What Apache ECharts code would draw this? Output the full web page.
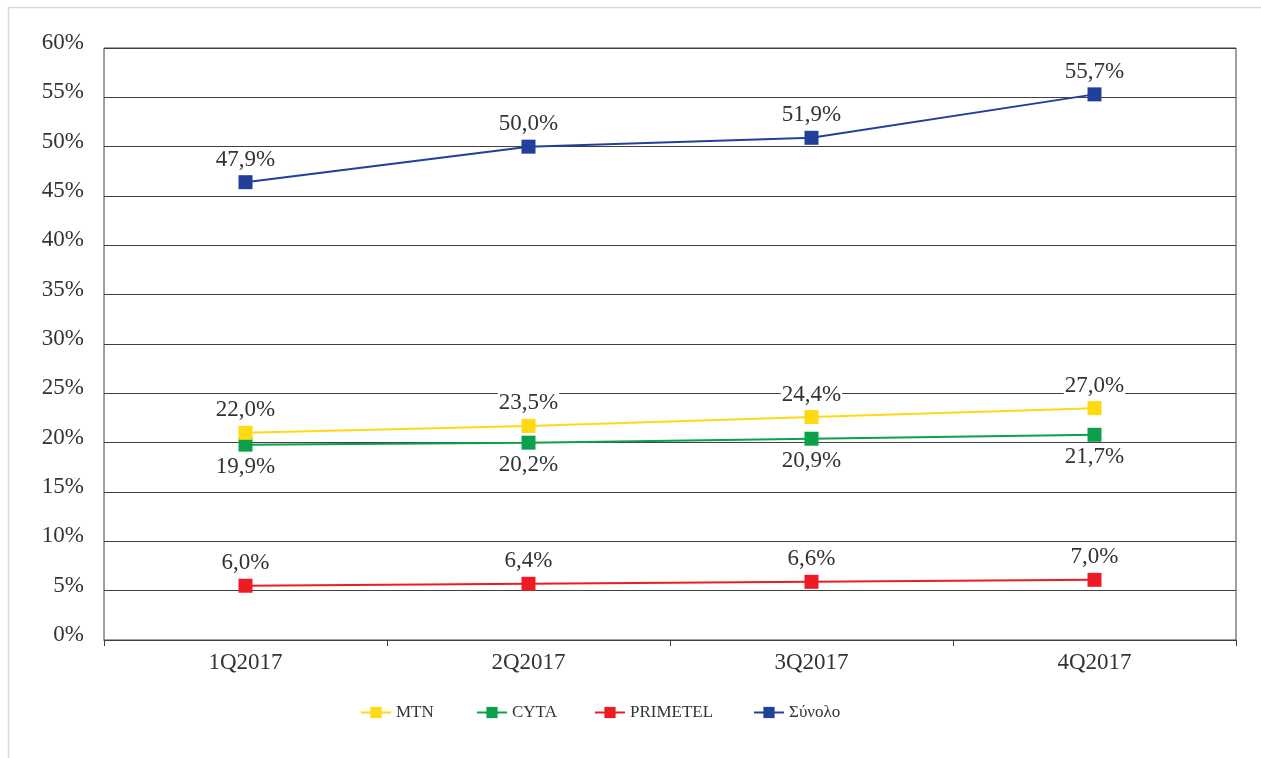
<!DOCTYPE html>
<html>
<head>
<meta charset="utf-8">
<script src="https://cdn.jsdelivr.net/npm/echarts@6/dist/echarts.min.js"></script>
<style>
html,body{margin:0;padding:0;background:#fff;}
#chart{width:1261px;height:758px;}
</style>
</head>
<body>
<div id="chart"></div>
<script>
var categories = ['1Q2017', '2Q2017', '3Q2017', '4Q2017'];
var yTickLabels = ['0%', '5%', '10%', '15%', '20%', '25%', '30%', '35%', '40%', '45%', '50%', '55%', '60%'];
var seriesNames = ['MTN', 'CYTA', 'PRIMETEL', 'Σύνολο'];
var mtnValues = [21.0, 21.7, 22.6, 23.5];
var mtnLabels = ['22,0%', '23,5%', '24,4%', '27,0%'];
var cytaValues = [19.8, 20.0, 20.4, 20.8];
var cytaLabels = ['19,9%', '20,2%', '20,9%', '21,7%'];
var primetelValues = [5.5, 5.7, 5.9, 6.1];
var primetelLabels = ['6,0%', '6,4%', '6,6%', '7,0%'];
var totalValues = [46.4, 50.0, 50.9, 55.3];
var totalLabels = ['47,9%', '50,0%', '51,9%', '55,7%'];

var FONT = '"Liberation Serif", "DejaVu Serif", serif';
var TXT = '#333333';

function makeSeries(name, values, labels, color, pos, z) {
  return {
    name: name,
    type: 'line',
    data: values,
    symbol: 'rect',
    symbolSize: 14,
    z: z,
    lineStyle: { color: color, width: 2 },
    itemStyle: { color: color },
    label: {
      show: true,
      position: pos,
      distance: 4,
      fontFamily: FONT,
      fontSize: 23,
      color: TXT,
      backgroundColor: '#ffffff',
      padding: [0, 1],
      formatter: function (p) { return labels[p.dataIndex]; }
    },
    emphasis: { disabled: true },
    animation: false
  };
}

var legendLefts = [360, 476, 594, 753];
var legends = seriesNames.map(function (n, i) {
  return {
    left: legendLefts[i],
    top: 704,
    itemWidth: 30,
    itemHeight: 14,
    padding: 0,
    textStyle: { fontFamily: FONT, fontSize: 17, color: TXT },
    data: [n]
  };
});

var chart = echarts.init(document.getElementById('chart'), null, { renderer: 'canvas' });
chart.setOption({
  animation: false,
  backgroundColor: '#ffffff',
  graphic: [{
    type: 'rect',
    shape: { x: 8.5, y: 7.5, width: 1400, height: 900 },
    style: { fill: 'none', stroke: '#d9d9d9', lineWidth: 1.5 },
    silent: true,
    z: -10
  }],
  grid: {
    left: 104, right: 25, top: 48, bottom: 118,
    show: true, borderColor: '#404040', borderWidth: 1, backgroundColor: 'transparent'
  },
  legend: legends,
  xAxis: {
    type: 'category',
    data: categories,
    boundaryGap: true,
    axisLine: { show: true, lineStyle: { color: '#404040', width: 1 } },
    axisTick: { show: true, length: 6, lineStyle: { color: '#404040' } },
    axisLabel: { fontFamily: FONT, fontSize: 23, color: TXT, margin: 11 }
  },
  yAxis: {
    type: 'value',
    min: 0, max: 60, interval: 5,
    axisLine: { show: false },
    axisTick: { show: false },
    splitLine: { show: true, lineStyle: { color: '#404040', width: 1 } },
    axisLabel: {
      fontFamily: FONT, fontSize: 23, color: TXT, margin: 20,
      verticalAlign: 'bottom',
      lineHeight: 10,
      formatter: function (v) { return yTickLabels[Math.round(v / 5)]; }
    }
  },
  series: [
    makeSeries(seriesNames[0], mtnValues, mtnLabels, '#FFD912', 'top', 4),
    makeSeries(seriesNames[1], cytaValues, cytaLabels, '#0DA04A', 'bottom', 3),
    makeSeries(seriesNames[2], primetelValues, primetelLabels, '#ED1C24', 'top', 3),
    makeSeries(seriesNames[3], totalValues, totalLabels, '#21409A', 'top', 3)
  ]
});
</script>
</body>
</html>
